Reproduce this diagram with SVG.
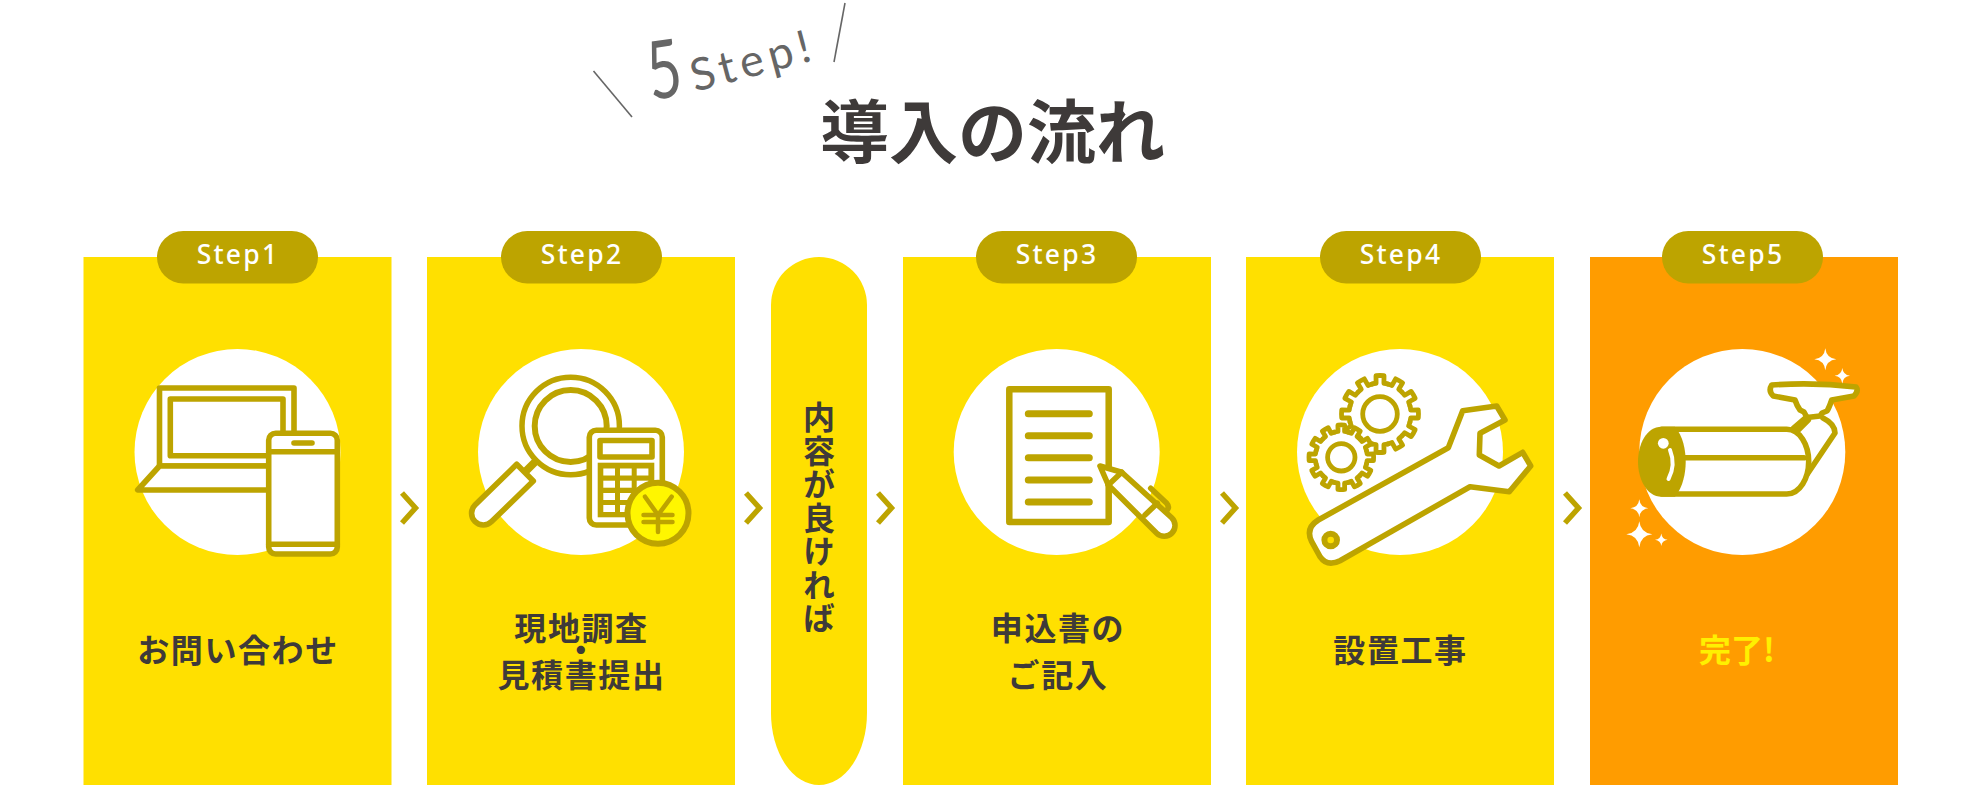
<svg xmlns="http://www.w3.org/2000/svg" xmlns:xlink="http://www.w3.org/1999/xlink" width="1980" height="796" viewBox="0 0 1980 796">
<style>
.box{fill:#ffe000}
.disc{fill:#fff}
.badge{fill:#bda400}
.badgetext{font:500 26.5px "Noto Sans","Open Sans",sans-serif;fill:#fff;text-anchor:middle;letter-spacing:2.2px}
.label{font:700 32px "Noto Sans CJK JP",sans-serif;fill:#3e3a39;text-anchor:middle;letter-spacing:1.6px}
.ic{fill:#fff;stroke:#bda400;stroke-width:5.6;stroke-linejoin:round;stroke-linecap:round}
.ln{fill:none;stroke:#bda400;stroke-width:5.6;stroke-linejoin:round;stroke-linecap:round}
.chev{fill:none;stroke:#bda400;stroke-width:5.4}
.spark{fill:#fff}
</style>
<defs>
<path id="star" d="M0,-1Q.1,-.1 1,0Q.1,.1 0,1Q-.1,.1 -1,0Q-.1,-.1 0,-1Z"/>
<path id="tooth" d="M-8.02,-29.94Q-5.9,-30.5 -3.9,-30.75L-4.02,-38.29Q0,-38.7 4.02,-38.29L3.9,-30.75Q5.9,-30.5 8.02,-29.94"/>
<g id="gear">
<circle r="31" fill="#fff" stroke="none"/>
<use xlink:href="#tooth"/><use xlink:href="#tooth" transform="rotate(30)"/><use xlink:href="#tooth" transform="rotate(60)"/><use xlink:href="#tooth" transform="rotate(90)"/><use xlink:href="#tooth" transform="rotate(120)"/><use xlink:href="#tooth" transform="rotate(150)"/><use xlink:href="#tooth" transform="rotate(180)"/><use xlink:href="#tooth" transform="rotate(210)"/><use xlink:href="#tooth" transform="rotate(240)"/><use xlink:href="#tooth" transform="rotate(270)"/><use xlink:href="#tooth" transform="rotate(300)"/><use xlink:href="#tooth" transform="rotate(330)"/>
</g>
</defs>
<rect width="1980" height="796" fill="#fff"/>
<g id="title">
<line x1="593.5" y1="71" x2="632" y2="117" stroke="#666" stroke-width="1.6"/>
<line x1="845" y1="3" x2="834" y2="62" stroke="#666" stroke-width="1.6"/>
<text transform="translate(651,100) rotate(-8) scale(.82,1.12)" font-family="'Lato','Liberation Sans',sans-serif" font-weight="400" font-size="72" fill="#666">5</text>
<text transform="translate(695,92) rotate(-15)" font-family="'Lato','Liberation Sans',sans-serif" font-weight="400" font-size="45" fill="#666" letter-spacing="5.5">Step!</text>
<text x="820" y="158" font-family="'Noto Sans CJK JP',sans-serif" font-weight="700" font-size="69" fill="#3e3a39">導入の流れ</text>
</g>
<g id="connectors">
<polyline class="chev" points="402,493 415.5,508 402,523"/>
<polyline class="chev" points="746,493 759.5,508 746,523"/>
<polyline class="chev" points="878,493 891.5,508 878,523"/>
<polyline class="chev" points="1222,493 1235.5,508 1222,523"/>
<polyline class="chev" points="1565,493 1578.5,508 1565,523"/>
</g>
<g id="step1">
<rect class="box" x="83.5" y="257" width="308" height="528"/>
<circle class="disc" cx="237.5" cy="452" r="103"/>
<path class="ic" d="M159.5,466V388H294V466Z"/>
<rect class="ic" x="170.3" y="399" width="112.7" height="56.7"/>
<path class="ic" d="M159.5,466L137.7,490H270V466Z"/>
<rect class="ic" x="268.7" y="433.3" width="68.6" height="120.7" rx="7"/>
<path class="ln" d="M268.7,451.7H337.3M268.7,544.3H337.3M294,443H312"/>
<rect class="badge" x="157" y="231" width="161" height="52.5" rx="26.25"/>
<text class="badgetext" x="238" y="264">Step1</text>
<text class="label" x="238" y="662">お問い合わせ</text>
</g>
<g id="step2">
<rect class="box" x="427" y="257" width="308" height="528"/>
<circle class="disc" cx="581" cy="452" r="103"/>
<line x1="526" y1="471" x2="536" y2="461" stroke="#bda400" stroke-width="8"/>
<circle cx="570.7" cy="426" r="48.7" fill="#fff" stroke="#bda400" stroke-width="5.5"/>
<circle cx="570.7" cy="426" r="36" fill="#fff" stroke="#bda400" stroke-width="6"/>
<path class="ic" d="M516.7,464.3L533.3,481L491.6,521.6A11.7,11.7 0 0 1 475,505Z"/>
<rect class="ic" x="589.3" y="430.3" width="73" height="94.7" rx="7"/>
<rect class="ic" x="600" y="440.5" width="52" height="16.5"/>
<rect x="597.7" y="462.7" width="56.6" height="54.6" fill="#bda400"/>
<g fill="#fff">
<rect x="603.3" y="468.5" width="11.7" height="7"/><rect x="620" y="468.5" width="11.7" height="7"/><rect x="636.7" y="468.5" width="11.7" height="7"/>
<rect x="603.3" y="480.7" width="11.7" height="7"/><rect x="620" y="480.7" width="11.7" height="7"/><rect x="636.7" y="480.7" width="11.7" height="7"/>
<rect x="603.3" y="493" width="11.7" height="7"/><rect x="620" y="493" width="11.7" height="7"/><rect x="636.7" y="493" width="11.7" height="7"/>
<rect x="603.3" y="505" width="11.7" height="7"/><rect x="620" y="505" width="11.7" height="7"/><rect x="636.7" y="505" width="11.7" height="7"/>
</g>
<circle cx="658" cy="513.3" r="30.5" fill="#fff600" stroke="#bda400" stroke-width="6"/>
<path d="M645,496.7L658,515L671.7,496.7M658,515V532M643.5,515H672.5M643.5,522H672.5" fill="none" stroke="#bda400" stroke-width="4.5" stroke-linecap="round"/>
<rect class="badge" x="501" y="231" width="161" height="52.5" rx="26.25"/>
<text class="badgetext" x="582" y="264">Step2</text>
<text class="label" x="581.5" y="640">現地調査</text>
<text class="label" x="581.5" y="662">・</text>
<text class="label" x="581.5" y="687">見積書提出</text>
</g>
<g id="decision">
<path class="box" d="M771,305A48,48 0 0 1 867,305V713A48,72 0 0 1 771,713Z"/>
<text x="819" y="401" writing-mode="vertical-rl" font-family="'Noto Sans CJK JP',sans-serif" font-weight="700" font-size="32" letter-spacing="1.5" fill="#3e3a39">内容が良ければ</text>
</g>
<g id="step3">
<rect class="box" x="903" y="257" width="308" height="528"/>
<circle class="disc" cx="1056.7" cy="452" r="103"/>
<rect class="ic" x="1009.3" y="389.3" width="99.4" height="132.7" style="stroke-width:6.5"/>
<path d="M1028.3,413.7H1089.3M1028.3,435.7H1089.3M1028.3,457.7H1089.3M1028.3,480H1089.3M1028.3,502H1089.3" fill="none" stroke="#bda400" stroke-width="7" stroke-linecap="round"/>
<path class="ic" d="M1100,466L1121.7,472.3L1171.7,517.7A10.5,10.5 0 0 1 1156.7,533.3L1108.3,485Z"/>
<path class="ln" d="M1121.7,472.3L1108.3,485M1145,515L1157.3,503.3M1150.7,488.3L1166.7,503.3Q1170,507 1166.7,510.7"/>
<rect class="badge" x="976" y="231" width="161" height="52.5" rx="26.25"/>
<text class="badgetext" x="1057" y="264">Step3</text>
<text class="label" x="1058" y="640">申込書の</text>
<text class="label" x="1058" y="687">ご記入</text>
</g>
<g id="step4">
<rect class="box" x="1246" y="257" width="308" height="528"/>
<circle class="disc" cx="1400" cy="452" r="103"/>
<use xlink:href="#gear" x="1380" y="414" class="ic" style="stroke-width:4.8"/>
<circle cx="1380" cy="414" r="17.3" fill="#fff" stroke="#bda400" stroke-width="4.8"/>
<g transform="translate(1341.3,457.3) scale(.84)"><use xlink:href="#gear" class="ic" style="stroke-width:5.7"/></g>
<circle cx="1341.3" cy="457.3" r="13.7" fill="#fff" stroke="#bda400" stroke-width="4.8"/>
<path class="ic" d="M1448.3,447.7L1318.3,520Q1305,528.3 1311.7,541.7L1320,556.7Q1327.3,567.3 1340,560.7L1470,486.7L1509.3,491.7L1530.7,466L1522.7,452.3L1499,466L1479.3,455L1480,433.3L1505,420L1496.7,406L1462.7,410.7Z"/>
<circle cx="1330.7" cy="540" r="6.3" fill="#ffe000" stroke="#bda400" stroke-width="6"/>
<rect class="badge" x="1320" y="231" width="161" height="52.5" rx="26.25"/>
<text class="badgetext" x="1401" y="264">Step4</text>
<text class="label" x="1400.5" y="662">設置工事</text>
</g>
<g id="step5">
<rect x="1590" y="257" width="308" height="528" fill="#ff9c00"/>
<circle class="disc" cx="1742.3" cy="452" r="103"/>
<path class="ln" d="M1793.3,428.3L1806.7,417M1798.3,430L1808.3,420"/>
<path class="ic" d="M1823,418Q1835,424 1835,433L1806.7,475"/>
<path class="ic" d="M1771.7,385Q1815,382 1856,387Q1859,391 1854,396L1831.7,400Q1829,408 1827,411L1822,413L1820,416L1807,417.5L1804,412L1800,410Q1797,406 1795,400L1773.3,396Q1768,391 1771.7,385Z"/>
<path class="ic" d="M1661.7,429.3H1786.7C1800,429.3 1808.7,445 1808.7,461.7C1808.7,478 1800,494 1786.7,494H1661.7Z"/>
<path class="ln" d="M1685,457.7H1804"/>
<path d="M1661.7,426.7C1646,426.7 1638,445 1638,461.7C1638,478 1646,496.7 1661.7,496.7H1675C1683,487 1685.7,473 1685.7,461.7C1685.7,450 1683,436 1675,426.7Z" fill="#bda400"/>
<circle cx="1663.3" cy="443.3" r="5.4" fill="#fff"/>
<path d="M1670,450Q1676,465 1668.5,479" fill="none" stroke="#fff" stroke-width="4" stroke-linecap="round"/>
<g class="spark">
<use xlink:href="#star" transform="translate(1825.3,359.3) scale(11)"/>
<use xlink:href="#star" transform="translate(1842.3,375.7) scale(7.7)"/>
<use xlink:href="#star" transform="translate(1639.3,508.3) scale(9)"/>
<use xlink:href="#star" transform="translate(1639.3,534.3) scale(13)"/>
<use xlink:href="#star" transform="translate(1661.3,539.7) scale(6.3)"/>
</g>
<rect class="badge" x="1662" y="231" width="161" height="52.5" rx="26.25"/>
<text class="badgetext" x="1743" y="264">Step5</text>
<text class="label" x="1737" y="662" style="fill:#fff000;letter-spacing:0">完了!</text>
</g>
</svg>
